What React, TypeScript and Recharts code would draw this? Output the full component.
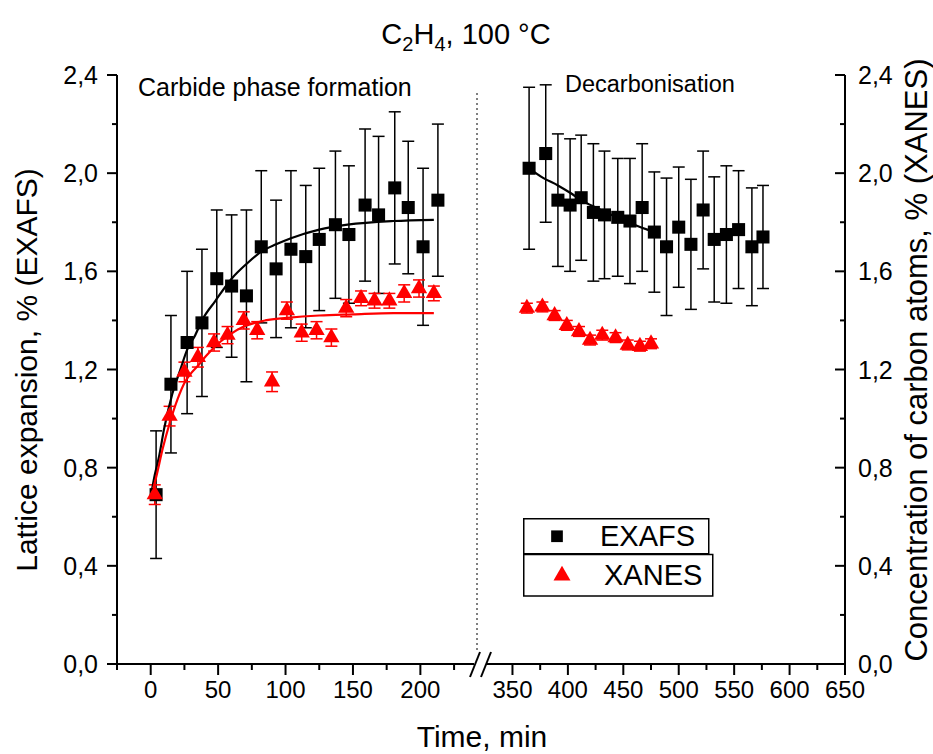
import React from 'react';
import { ComposedChart, Scatter, XAxis, YAxis, ErrorBar, Legend, Symbols } from 'recharts';

const FONT = '"Liberation Sans", Arial, sans-serif';

// carbide phase formation (left part of the broken time axis)
const exafsTimeA = [4, 15, 27, 38, 49, 60, 71, 82, 93, 104, 115, 125, 137, 147, 159, 169, 181, 191, 202, 213];
const exafsValA = [0.69, 1.14, 1.31, 1.39, 1.57, 1.54, 1.5, 1.7, 1.61, 1.69, 1.66, 1.73, 1.79, 1.75, 1.87, 1.83, 1.94, 1.86, 1.7, 1.89];
const exafsErrA = [0.26, 0.28, 0.29, 0.3, 0.28, 0.29, 0.35, 0.31, 0.28, 0.32, 0.29, 0.29, 0.3, 0.28, 0.31, 0.32, 0.31, 0.27, 0.32, 0.31];

const xanesTimeA = [3, 14, 25, 35, 47, 57, 69, 79, 90, 101, 112, 123, 134, 145, 156, 166, 177, 188, 199, 210];
const xanesValA = [0.69, 1.01, 1.19, 1.25, 1.31, 1.34, 1.4, 1.36, 1.15, 1.44, 1.35, 1.36, 1.33, 1.45, 1.49, 1.48, 1.48, 1.51, 1.53, 1.51];
const xanesErrA = [0.04, 0.04, 0.04, 0.04, 0.035, 0.035, 0.035, 0.035, 0.04, 0.035, 0.035, 0.035, 0.035, 0.035, 0.03, 0.03, 0.03, 0.035, 0.035, 0.03];

const exafsFitTimeA = [0, 3, 6, 10, 16, 22, 27, 33, 38, 48, 60, 71, 82, 93, 104, 125, 146, 180, 210];
const exafsFitValA = [0.68, 0.77, 0.84, 0.96, 1.1, 1.2, 1.28, 1.34, 1.4, 1.48, 1.57, 1.63, 1.68, 1.71, 1.735, 1.77, 1.79, 1.805, 1.81];

const xanesFitTimeA = [0, 4, 9, 14, 20, 25, 30, 35, 41, 47, 58, 69, 85, 101, 125, 150, 180, 210];
const xanesFitValA = [0.68, 0.76, 0.88, 0.98, 1.08, 1.145, 1.185, 1.215, 1.255, 1.29, 1.34, 1.375, 1.4, 1.41, 1.42, 1.425, 1.43, 1.43];

// decarbonisation (right part)
const exafsTimeB = [365, 380, 391, 402, 412, 423, 433, 445, 456, 467, 478, 489, 500, 511, 522, 532, 543, 554, 566, 576];
const exafsValB = [2.02, 2.08, 1.89, 1.87, 1.9, 1.84, 1.83, 1.82, 1.805, 1.86, 1.76, 1.7, 1.78, 1.71, 1.85, 1.73, 1.75, 1.77, 1.7, 1.74];
const exafsErrB = [0.33, 0.28, 0.27, 0.27, 0.255, 0.28, 0.26, 0.24, 0.255, 0.26, 0.245, 0.28, 0.245, 0.265, 0.24, 0.255, 0.28, 0.24, 0.24, 0.21];

const xanesTimeB = [363, 377, 388, 399, 410, 420, 431, 443, 454, 465, 475];
const xanesValB = [1.45, 1.455, 1.42, 1.38, 1.355, 1.32, 1.34, 1.33, 1.3, 1.295, 1.305];
const xanesErrB = [0.02, 0.02, 0.02, 0.02, 0.02, 0.02, 0.02, 0.02, 0.02, 0.02, 0.02];

const exafsFitTimeB = [365, 378, 391, 402, 412, 425, 442, 460, 478];
const exafsFitValB = [2.02, 1.98, 1.95, 1.92, 1.89, 1.86, 1.825, 1.79, 1.76];

const yTicks = [0, 0.2, 0.4, 0.6, 0.8, 1.0, 1.2, 1.4, 1.6, 1.8, 2.0, 2.2, 2.4];
const xTicksA = [-25, 0, 25, 50, 75, 100, 125, 150, 175, 200, 225];
const xTicksB = [350, 375, 400, 425, 450, 475, 500, 525, 550, 575, 600, 625, 650];

const rows = (t: number[], v: number[], e?: number[]) =>
  t.map((tt, i) => ({ t: tt, v: v[i], e: e ? e[i] : 0 }));

const exafsA = rows(exafsTimeA, exafsValA, exafsErrA);
const xanesA = rows(xanesTimeA, xanesValA, xanesErrA);
const exafsFitA = rows(exafsFitTimeA, exafsFitValA);
const xanesFitA = rows(xanesFitTimeA, xanesFitValA);
const exafsB = rows(exafsTimeB, exafsValB, exafsErrB);
const xanesB = rows(xanesTimeB, xanesValB, xanesErrB);
const exafsFitB = rows(exafsFitTimeB, exafsFitValB);

const fmt = (v: number) => v.toFixed(1).replace('.', ',');

const XTick = ({ x, y, payload }: any) => {
  const major = payload.value % 50 === 0;
  return (
    <g>
      <line x1={x} y1={y} x2={x} y2={y + (major ? 11 : 6)} stroke="#000" strokeWidth={2} />
      {major && (
        <text x={x} y={y + 34} textAnchor="middle" fontSize={24} fontFamily={FONT} fill="#000">
          {payload.value}
        </text>
      )}
    </g>
  );
};

const YTickLeft = ({ x, y, payload }: any) => {
  const major = Math.round(payload.value * 10) % 4 === 0;
  return (
    <g>
      <line x1={x - (major ? 10 : 5)} y1={y} x2={x} y2={y} stroke="#000" strokeWidth={2} />
      {major && (
        <text x={x - 19} y={y + 9} textAnchor="end" fontSize={25} fontFamily={FONT} fill="#000">
          {fmt(payload.value)}
        </text>
      )}
    </g>
  );
};

const YTickRight = ({ x, y, payload }: any) => {
  const major = Math.round(payload.value * 10) % 4 === 0;
  return (
    <g>
      <line x1={x - (major ? 10 : 5)} y1={y} x2={x} y2={y} stroke="#000" strokeWidth={2} />
      {major && (
        <text x={x + 13} y={y + 9} textAnchor="start" fontSize={25} fontFamily={FONT} fill="#000">
          {fmt(payload.value)}
        </text>
      )}
    </g>
  );
};

const Square = ({ cx, cy }: any) => <Symbols type="square" size={170} cx={cx} cy={cy} fill="#000" />;
const Triangle = ({ cx, cy }: any) => <Symbols type="triangle" size={115} cx={cx} cy={cy} fill="#ff0000" />;
const NoDot = () => <g />;

const LegendBox = ({ payload }: any) => {
  // fit curves are not listed in the legend
  const items = ((payload || []) as any[]).filter((e) => e.type !== 'none' && !String(e.value).includes('fit'));
  return (
    <svg width={200} height={82} style={{ display: 'block', overflow: 'visible' }}>
      {items.map((entry, i) => {
        const top = i === 0 ? 0.75 : 36.5;
        const h = i === 0 ? 35 : 41.5;
        const w = i === 0 ? 185 : 189;
        return (
          <g key={entry.value}>
            <rect x={0.75} y={top} width={w} height={h} fill="#fff" stroke="#000" strokeWidth={1.5} />
            {entry.type === 'square' ? (
              <Symbols type="square" size={137} cx={34} cy={top + 17.5} fill="#000" />
            ) : (
              <Symbols type="triangle" size={125} cx={39} cy={top + 21} fill="#ff0000" />
            )}
            <text x={i === 0 ? 77 : 81} y={top + (i === 0 ? 27 : 30)} fontSize={29} fontFamily={FONT} fill="#000">
              {entry.value}
            </text>
          </g>
        );
      })}
    </svg>
  );
};

const axisLine = { stroke: '#000', strokeWidth: 2 };

export default function App() {
  return (
    <div style={{ position: 'absolute', left: 0, top: 0, width: 933, height: 754, background: '#fff', fontFamily: FONT }}>
      <div style={{ position: 'absolute', left: 0, top: 0 }}>
        <ComposedChart width={477} height={754} margin={{ top: 75, right: 0, bottom: 0, left: 57 }}>
          <XAxis
            type="number"
            dataKey="t"
            domain={[-25, 242]}
            allowDataOverflow
            ticks={xTicksA}
            interval={0}
            tick={(p: any) => <XTick {...p} />}
            tickLine={false}
            tickSize={0}
            tickMargin={0}
            axisLine={axisLine}
            height={90}
          />
          <YAxis
            type="number"
            dataKey="v"
            domain={[0, 2.4]}
            allowDataOverflow
            ticks={yTicks}
            interval={0}
            tick={(p: any) => <YTickLeft {...p} />}
            tickLine={false}
            tickSize={0}
            tickMargin={0}
            axisLine={axisLine}
            width={60}
          />
          <Scatter name="EXAFS fit" data={exafsFitA} line={{ stroke: '#000', strokeWidth: 2.2 }} lineJointType="monotoneX" shape={NoDot} legendType="none" isAnimationActive={false} />
          <Scatter name="XANES fit" data={xanesFitA} line={{ stroke: '#ff0000', strokeWidth: 2.2 }} lineJointType="monotoneX" shape={NoDot} legendType="none" isAnimationActive={false} />
          <Scatter name="EXAFS" data={exafsA} shape={Square} legendType="square" isAnimationActive={false}>
            <ErrorBar dataKey="e" direction="y" width={6} stroke="#000" strokeWidth={1.5} isAnimationActive={false} />
          </Scatter>
          <Scatter name="XANES" data={xanesA} shape={Triangle} legendType="triangle" isAnimationActive={false}>
            <ErrorBar dataKey="e" direction="y" width={6} stroke="#ff0000" strokeWidth={1.5} isAnimationActive={false} />
          </Scatter>
        </ComposedChart>
      </div>

      <div style={{ position: 'absolute', left: 477, top: 0 }}>
        <ComposedChart width={456} height={754} margin={{ top: 75, right: 0, bottom: 0, left: 0 }}>
          <XAxis
            type="number"
            dataKey="t"
            domain={[318, 650]}
            allowDataOverflow
            ticks={xTicksB}
            interval={0}
            tick={(p: any) => <XTick {...p} />}
            tickLine={false}
            tickSize={0}
            tickMargin={0}
            axisLine={axisLine}
            height={90}
          />
          <YAxis
            type="number"
            dataKey="v"
            orientation="right"
            domain={[0, 2.4]}
            allowDataOverflow
            ticks={yTicks}
            interval={0}
            tick={(p: any) => <YTickRight {...p} />}
            tickLine={false}
            tickSize={0}
            tickMargin={0}
            axisLine={axisLine}
            width={88}
          />
          <Legend
            layout="horizontal"
            verticalAlign="middle"
            align="center"
            wrapperStyle={{ position: 'absolute', left: 46, top: 518, width: 200, height: 82 }}
            content={(p: any) => <LegendBox payload={p.payload} />}
          />
          <Scatter name="EXAFS fit" data={exafsFitB} line={{ stroke: '#000', strokeWidth: 2.2 }} lineJointType="monotoneX" shape={NoDot} legendType="none" isAnimationActive={false} />
          <Scatter name="EXAFS" data={exafsB} shape={Square} legendType="square" isAnimationActive={false}>
            <ErrorBar dataKey="e" direction="y" width={6} stroke="#000" strokeWidth={1.5} isAnimationActive={false} />
          </Scatter>
          <Scatter name="XANES" data={xanesB} shape={Triangle} legendType="triangle" isAnimationActive={false}>
            <ErrorBar dataKey="e" direction="y" width={6} stroke="#ff0000" strokeWidth={1.5} isAnimationActive={false} />
          </Scatter>
        </ComposedChart>
      </div>

      <svg width={933} height={754} style={{ position: 'absolute', left: 0, top: 0, pointerEvents: 'none' }} fontFamily={FONT}>
        <text x={466} y={44} textAnchor="middle" fontSize={29} fill="#000">
          C<tspan dy={7} fontSize={20}>2</tspan>
          <tspan dy={-7}>H</tspan>
          <tspan dy={7} fontSize={20}>4</tspan>
          <tspan dy={-7}>, 100 °C</tspan>
        </text>
        <text x={138} y={96} fontSize={25} fill="#000">Carbide phase formation</text>
        <text x={565} y={92} fontSize={23.5} fill="#000">Decarbonisation</text>
        <text x={37} y={370} fontSize={30} textAnchor="middle" transform="rotate(-90 37 370)" fill="#000">
          Lattice expansion, % (EXAFS)
        </text>
        <text x={927} y={360} fontSize={31} textAnchor="middle" transform="rotate(-90 927 360)" fill="#000">
          Concentration of carbon atoms, % (XANES)
        </text>
        <text x={482} y={747} fontSize={30} textAnchor="middle" fill="#000">Time, min</text>
        <line x1={477} y1={93} x2={477} y2={650} stroke="#000" strokeWidth={1} strokeDasharray="2 3" />
        <rect x={474} y={660} width={12} height={8} fill="#fff" />
        <line x1={470} y1={677} x2={480} y2={652} stroke="#000" strokeWidth={2} />
        <line x1={481} y1={677} x2={491} y2={652} stroke="#000" strokeWidth={2} />
      </svg>
    </div>
  );
}
